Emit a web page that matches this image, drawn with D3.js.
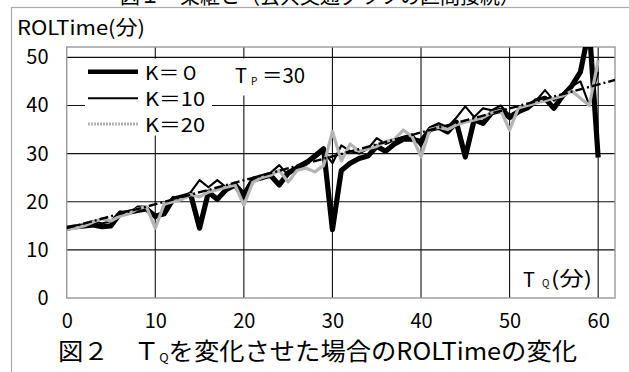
<!DOCTYPE html>
<html>
<head>
<meta charset="utf-8">
<script src="https://cdn.jsdelivr.net/npm/d3@7"></script>
<style>
  body { margin: 0; background: #fff; }
  svg { display: block; font-family: "Noto Sans CJK JP", sans-serif; }
</style>
</head>
<body>
<div id="chart"></div>
<script>
// T_Q (分)
const tq = [0, 1, 2, 3, 4, 5, 6, 7, 8, 9,
  10, 11, 12, 13, 14, 15, 16, 17, 18, 19,
  20, 21, 22, 23, 24, 25, 26, 27, 28, 29,
  30, 31, 32, 33, 34, 35, 36, 37, 38, 39,
  40, 41, 42, 43, 44, 45, 46, 47, 48, 49,
  50, 51, 52, 53, 54, 55, 56, 57, 58, 59, 60];

// ROLTime (分), one list per K
const rolK0 = [14.5, 14.8, 15.0, 15.2, 14.8, 15.0, 17.5, 17.8, 18.2, 18.5,
  17.0, 17.5, 20.5, 21.0, 21.5, 14.5, 22.0, 20.5, 22.5, 23.5,
  21.0, 24.5, 25.0, 25.5, 23.5, 26.0, 27.0, 28.0, 29.5, 31.0,
  14.2, 26.5, 28.0, 29.0, 29.5, 31.5, 30.5, 32.0, 33.0, 33.0,
  32.5, 35.0, 35.5, 34.5, 36.5, 29.3, 37.0, 36.3, 38.5, 39.0,
  37.5, 38.7, 39.5, 41.0, 41.5, 39.4, 42.0, 44.0, 47.0, 56.0, 29.2];
const rolK10 = [14.3, 14.6, 15.2, 16.0, 15.5, 16.0, 18.0, 17.5, 19.0, 19.0,
  16.5, 18.5, 21.0, 20.5, 22.0, 24.5, 23.0, 24.5, 23.0, 24.0,
  22.0, 25.0, 25.5, 26.0, 27.6, 25.5, 27.5, 28.5, 29.0, 30.5,
  28.0, 31.7, 30.5, 30.0, 31.0, 33.2, 32.0, 32.8, 33.5, 34.0,
  31.5, 35.5, 36.3, 35.5, 37.5, 39.8, 37.6, 39.4, 39.0, 40.0,
  38.0, 39.0, 40.0, 41.0, 43.2, 41.0, 42.5, 44.0, 45.0, 40.0, 47.0];
const rolK20 = [14.3, 14.5, 15.0, 15.8, 16.5, 16.0, 17.0, 17.5, 18.5, 19.0,
  14.5, 19.5, 20.0, 20.5, 21.5, 21.0, 22.0, 22.5, 23.0, 23.5,
  19.3, 24.0, 25.0, 25.5, 26.5, 24.1, 26.5, 27.0, 26.2, 27.5,
  34.6, 28.5, 32.0, 30.5, 31.0, 31.5, 32.5, 33.0, 34.9, 33.5,
  29.3, 35.0, 35.5, 35.0, 36.0, 36.5, 37.0, 37.5, 38.5, 39.0,
  34.9, 39.5, 40.0, 40.5, 41.0, 41.5, 42.0, 43.0, 41.5, 40.0, 49.4];

// linear trend (dash-dot)
const trendTq = [0, 61.9];
const trendRol = [14.5, 45.3];

const seriesNames = ['K＝０', 'K＝10', 'K＝20'];
const xTicks = [0, 10, 20, 30, 40, 50, 60];
const yTicks = [0, 10, 20, 30, 40, 50];

const cfg = {
  width: 629,
  height: 372,
  margin: { left: 66.7, right: 14, top: 47, bottom: 74 },
};

const styles = [
  { stroke: '#000', width: 5.2 },
  { stroke: '#000', width: 2.1 },
  { stroke: '#b4b4b4', width: 3.2 },
];

class rolChart {
  constructor(parent_id, cfg) {
    this.cfg = cfg;
    this.parent = d3.select(`#${parent_id}`);
    this.series = [rolK0, rolK10, rolK20].map(vals => tq.map((t, i) => ({ t: t, v: vals[i] })));
    this.trend = trendTq.map((t, i) => ({ t: t, v: trendRol[i] }));

    this._scales();
    this._make_svg();
    this._grid();
    this._lines();
    this._legend();
    this._labels();
  }

  _scales() {
    const m = this.cfg.margin;
    this.x0 = m.left;
    this.x1 = this.cfg.width - m.right;
    this.y0 = this.cfg.height - m.bottom;
    this.y1 = m.top;
    this.xScale = d3.scaleLinear([0, 61.9], [this.x0, this.x1]);
    this.yScale = d3.scaleLinear([0, 52.15], [this.y0, this.y1]);
    this.line = d3.line()
      .x(d => this.xScale(d.t))
      .y(d => this.yScale(d.v))
      .curve(d3.curveLinear);
  }

  _make_svg() {
    this.svg = this.parent
      .append('svg')
      .attr('width', this.cfg.width)
      .attr('height', this.cfg.height)
      .attr('viewBox', [0, 0, this.cfg.width, this.cfg.height])
      ;

    // figure title above, cut by the page edge
    this._text(this.svg, '図１　乗継と（公共交通グラフの区間接続）', 120, 3, 22, 'start', 400);

    this.svg.append('rect')
      .attr('x', 11.5).attr('y', 7.5)
      .attr('width', 700).attr('height', 400)
      .attr('fill', 'none')
      .attr('stroke', '#aaa')
      .attr('stroke-width', 1.2)
      ;

    this.svg.append('clipPath')
      .attr('id', 'plotClip')
      .append('rect')
      .attr('x', this.x0).attr('y', this.y1)
      .attr('width', this.x1 - this.x0).attr('height', this.y0 - this.y1)
      ;
  }

  _grid() {
    const g = this.svg.append('g').attr('class', 'gridlines');

    g.selectAll('line.h')
      .data(yTicks.filter(d => d > 0))
      .join('line')
      .attr('class', 'h')
      .attr('x1', this.x0).attr('x2', this.x1)
      .attr('y1', d => this.yScale(d)).attr('y2', d => this.yScale(d))
      .style('stroke', '#111')
      .style('stroke-width', 1.1)
      ;

    g.selectAll('line.v')
      .data(xTicks.filter(d => d > 0))
      .join('line')
      .attr('class', 'v')
      .attr('x1', d => this.xScale(d)).attr('x2', d => this.xScale(d))
      .attr('y1', this.y1).attr('y2', this.y0)
      .style('stroke', '#111')
      .style('stroke-width', 1.1)
      ;

    g.append('rect')
      .attr('x', this.x0).attr('y', this.y1)
      .attr('width', this.x1 - this.x0).attr('height', this.y0 - this.y1)
      .attr('fill', 'none')
      .attr('stroke', '#999')
      .attr('stroke-width', 1.4)
      ;

    // axes: labels only, no tick marks
    const xAxis = d3.axisBottom(this.xScale).tickValues(xTicks).tickSize(0).tickPadding(16);
    const yAxis = d3.axisLeft(this.yScale).tickValues(yTicks).tickSize(0).tickPadding(18);

    this.svg.append('g')
      .attr('class', 'xAxis')
      .attr('transform', `translate(0, ${this.y0})`)
      .call(xAxis)
      .call(a => a.select('.domain').remove())
      .selectAll('text')
      .attr('font-family', '"Noto Sans CJK JP", sans-serif')
      .attr('font-size', 20)
      .attr('fill', '#000')
      .attr('dy', '0.7em')
      ;

    this.svg.append('g')
      .attr('class', 'yAxis')
      .attr('transform', `translate(${this.x0}, 0)`)
      .call(yAxis)
      .call(a => a.select('.domain').remove())
      .selectAll('text')
      .attr('font-family', '"Noto Sans CJK JP", sans-serif')
      .attr('font-size', 20)
      .attr('fill', '#000')
      .attr('x', 48.5 - this.x0)
      ;
  }

  _lines() {
    const g = this.svg.append('g')
      .attr('class', 'chartlines')
      .attr('clip-path', 'url(#plotClip)')
      ;

    g.selectAll('path.series')
      .data(this.series)
      .join('path')
      .attr('class', 'series')
      .attr('d', this.line)
      .style('fill', 'none')
      .style('stroke', (d, i) => styles[i].stroke)
      .style('stroke-width', (d, i) => styles[i].width)
      .style('stroke-linejoin', 'round')
      ;

    g.append('path')
      .datum(this.trend)
      .attr('d', this.line)
      .style('fill', 'none')
      .style('stroke', '#000')
      .style('stroke-width', 2.4)
      .style('stroke-dasharray', '9,3,2,3')
      ;
  }

  _legend() {
    const g = this.svg.append('g').attr('class', 'legend');

    g.append('rect')
      .attr('x', 85).attr('y', 58.5).attr('width', 127).attr('height', 77)
      .attr('fill', '#fff');
    g.append('rect')
      .attr('x', 228).attr('y', 58.5).attr('width', 82).attr('height', 37)
      .attr('fill', '#fff');

    const rowY = [71.7, 98.3, 124];
    seriesNames.forEach((name, i) => {
      g.append('line')
        .attr('x1', 88).attr('x2', 138)
        .attr('y1', rowY[i]).attr('y2', rowY[i])
        .style('stroke', styles[i].stroke)
        .style('stroke-width', i === 0 ? 4.5 : styles[i].width)
        .style('stroke-dasharray', i === 2 ? '2,1' : null)
        ;
      this._text(g, name, 145, rowY[i] + 7.8, 19, 'start', i === 0 ? 55 : 60);
    });

    this._text(g, 'T', 235, 83, 20, 'start');
    this._text(g, 'P', 251, 85, 10, 'start');
    this._text(g, '＝30', 262, 83, 20, 'start', 43);
  }

  _labels() {
    this._text(this.svg, 'ROLTime(分)', 17, 35, 20, 'start', 128);

    this._text(this.svg, 'T', 523, 286.7, 20, 'start');
    this._text(this.svg, 'Q', 542, 287, 10, 'start');
    this._text(this.svg, '(分)', 551, 286, 20, 'start', 41);

    const cap = this.svg.append('text')
      .attr('x', 58)
      .attr('y', 360)
      .attr('font-size', 24)
      .attr('fill', '#000')
      .attr('textLength', 519)
      .attr('lengthAdjust', 'spacingAndGlyphs')
      ;
    cap.append('tspan').text('図２　Ｔ');
    cap.append('tspan').attr('font-size', 12).attr('dy', 2).text('Q');
    cap.append('tspan').attr('dy', -2).text('を変化させた場合のROLTimeの変化');
  }

  _text(g, str, x, y, size, anchor, len) {
    const t = g.append('text')
      .attr('x', x)
      .attr('y', y)
      .attr('font-size', size)
      .attr('text-anchor', anchor)
      .attr('fill', '#000')
      .text(str)
      ;
    if (len) {
      t.attr('textLength', len).attr('lengthAdjust', 'spacingAndGlyphs');
    }
    return t;
  }
}

const chart = new rolChart('chart', cfg);
</script>
</body>
</html>
